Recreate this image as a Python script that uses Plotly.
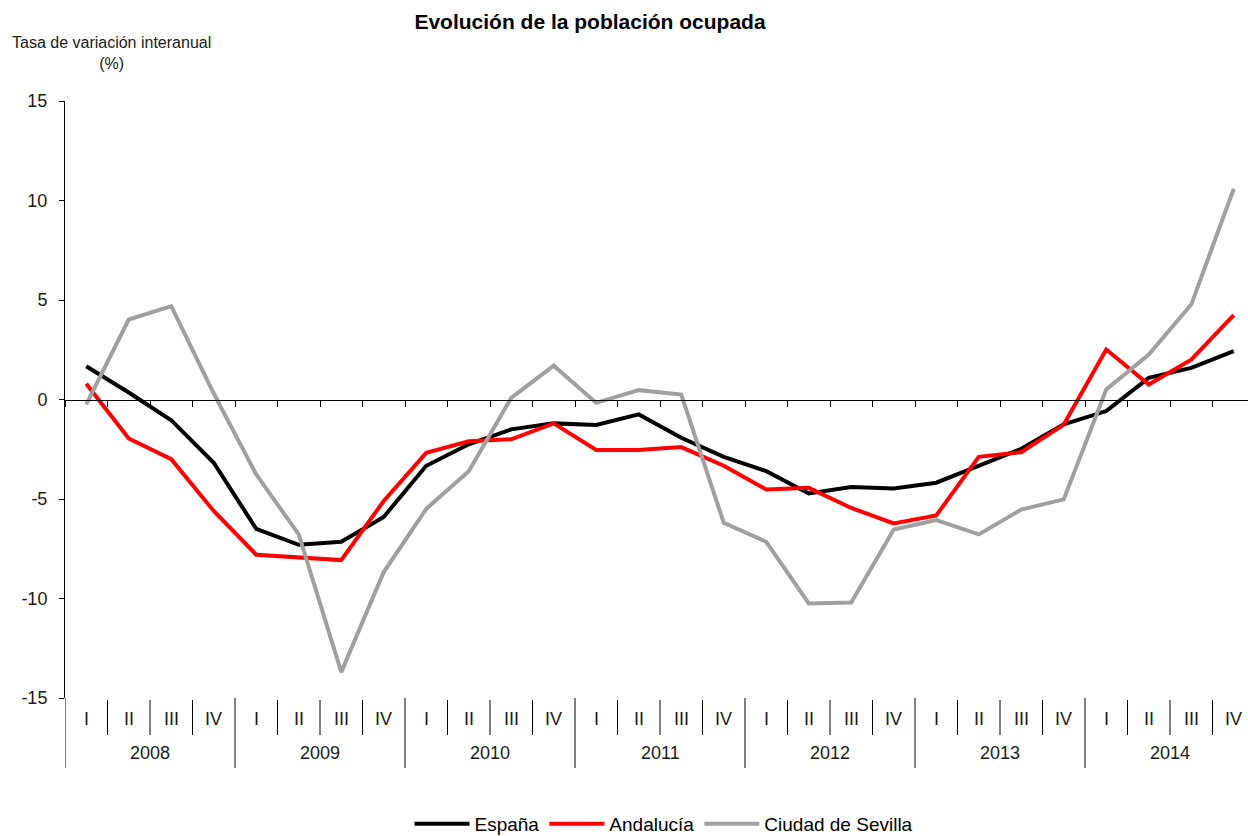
import plotly.graph_objects as go

years = ["2008", "2009", "2010", "2011", "2012", "2013", "2014"]
quarters = ["I", "II", "III", "IV"]
y_ticks = [-15, -10, -5, 0, 5, 10, 15]
y_tick_text = ["-15", "-10", "-5", "0", "5", "10", "15"]

espana = [1.67, 0.35, -1.04, -3.18, -6.5, -7.3, -7.15, -5.9,
          -3.33, -2.25, -1.5, -1.2, -1.28, -0.75, -1.92, -2.88,
          -3.6, -4.72, -4.4, -4.47, -4.18, -3.35, -2.48, -1.25,
          -0.58, 1.09, 1.59, 2.43]
andalucia = [0.79, -1.96, -3.0, -5.6, -7.8, -7.95, -8.07, -5.1,
             -2.68, -2.1, -2.0, -1.2, -2.54, -2.54, -2.39, -3.33,
             -4.52, -4.44, -5.45, -6.23, -5.83, -2.88, -2.65, -1.26,
             2.51, 0.75, 2.0, 4.24]
sevilla = [-0.25, 4.02, 4.69, 0.3, -3.77, -6.78, -13.7, -8.67,
           -5.5, -3.6, 0.08, 1.7, -0.17, 0.47, 0.25, -6.2,
           -7.15, -10.25, -10.2, -6.53, -6.06, -6.78, -5.53, -5.02,
           0.5, 2.26, 4.77, 10.59]

series_names = ["España", "Andalucía", "Ciudad de Sevilla"]
series_colors = ["#000000", "#ff0000", "#a0a0a0"]

cats = [f"{y} {q}" for y in years for q in quarters]

W, H = 1248, 836
PLOT_L, PLOT_T, PLOT_B = 65, 101, 698
L, T, B = PLOT_L, PLOT_T, H - PLOT_B
plot_h = PLOT_B - PLOT_T
plot_w = W - L
font_family = "Liberation Sans, Arial, sans-serif"
txt = "#1a1a1a"

def py(px):
    # pixel row -> paper y
    return (PLOT_B - px) / plot_h

def pxp(px):
    # pixel column -> paper x
    return (px - PLOT_L) / plot_w

fig = go.Figure()
for name, vals, col in zip(series_names, [espana, andalucia, sevilla], series_colors):
    fig.add_trace(go.Scatter(x=cats, y=vals, mode="lines", name=name,
                             line=dict(color=col, width=4)))

annotations = []
shapes = []
n = len(cats)
for i, c in enumerate(cats):
    q = quarters[i % 4]
    annotations.append(dict(x=c, xref="x", y=py(719), yref="paper", text=q,
                            showarrow=False, xanchor="center", yanchor="middle",
                            font=dict(size=18, color=txt)))
for k, y in enumerate(years):
    annotations.append(dict(x=4 * k + 1.5, xref="x", y=py(753), yref="paper", text=y,
                            showarrow=False, xanchor="center", yanchor="middle",
                            font=dict(size=18, color=txt)))
for i in range(n + 1):
    xb = i - 0.5
    if i % 4 == 0:
        y0, y1 = py(698), py(768)
    else:
        y0, y1 = py(700), py(735)
    shapes.append(dict(type="line", xref="x", yref="paper", x0=xb, x1=xb, y0=y0, y1=y1,
                       line=dict(color="#000000", width=1)))

annotations.append(dict(x=pxp(111), xref="paper", y=py(53), yref="paper",
                        text="Tasa de variación interanual<br>(%)", showarrow=False,
                        xanchor="center", yanchor="middle", align="center",
                        font=dict(size=16, color=txt)))

fig.update_layout(
    width=W, height=H,
    margin=dict(l=L, r=0, t=T, b=B, pad=0, autoexpand=False),
    paper_bgcolor="white", plot_bgcolor="white",
    font=dict(family=font_family, color=txt),
    title=dict(text="<b>Evolución de la población ocupada</b>", x=590 / W,
               xref="container", xanchor="center", y=1 - 22 / H,
               yref="container", yanchor="middle",
               font=dict(size=21, color="#000000")),
    xaxis=dict(type="category", categoryorder="array", categoryarray=cats,
               range=[-0.5, -0.5 + plot_w / 42.5],
               anchor="free", position=0.5, showline=True, linecolor="#000000", linewidth=1,
               ticks="outside", ticklen=6, tickcolor="#000000", tickson="boundaries",
               showticklabels=False, showgrid=False, zeroline=False),
    yaxis=dict(range=[-15, 15], tickmode="array", tickvals=y_ticks, ticktext=y_tick_text,
               showline=True, linecolor="#000000",
               linewidth=1, ticks="outside", ticklen=5, tickcolor="#000000",
               showgrid=False, zeroline=False, tickfont=dict(size=18, color=txt),
               ticklabelstandoff=8),
    showlegend=True,
    legend=dict(orientation="h", x=pxp(664), xanchor="center", y=py(824), yanchor="middle",
                itemwidth=55,
                font=dict(size=19, color="#000000"), bgcolor="rgba(0,0,0,0)"),
    annotations=annotations, shapes=shapes,
)

fig.write_html("out.html", config={"displayModeBar": False},
               post_script="document.body.style.margin='0';document.body.style.overflow='hidden';")
